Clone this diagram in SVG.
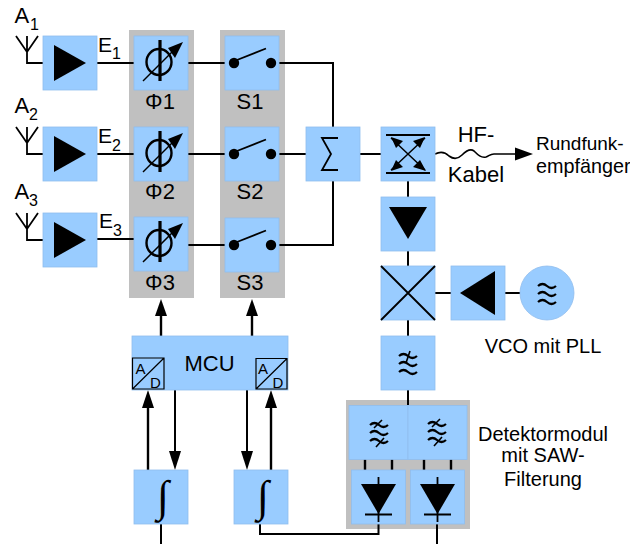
<svg xmlns="http://www.w3.org/2000/svg" width="630" height="544" viewBox="0 0 630 544">
<style>
text{font-family:"Liberation Sans",Arial,sans-serif;fill:#000}
.b{fill:#99ccff;stroke:#8fbdee;stroke-width:.8}
.g{fill:#c0c0c0}
.w{fill:none;stroke:#000;stroke-width:2}
.t{fill:none;stroke:#000;stroke-width:2.4}
.f{fill:#000;stroke:none}
.l{font-size:20px;text-anchor:middle}
.m{font-size:22px;text-anchor:middle}
.s{font-size:16px}
.i{font-family:"Liberation Serif",serif;font-size:44px;text-anchor:middle}
.ad{font-size:15px}
.sl{stroke:#000;stroke-width:1.6;fill:none}
</style>
<defs>
<g id="amp"><rect class="b" x="0" y="0" width="54" height="54"/><path class="f" d="M11 9L43 27L11 45Z"/></g>
<g id="phi"><rect class="b" x="0" y="0" width="54" height="54"/><ellipse cx="25" cy="26" rx="12.500" ry="13" fill="none" stroke="#000" stroke-width="2.400"/><path d="M26 4V45" stroke="#000" stroke-width="3.200"/><path d="M9 45L38 16" stroke="#000" stroke-width="1.500"/><path class="f" d="M49 6L34 12L41 22Z"/></g>
<g id="sw"><rect class="b" x="0" y="0" width="54" height="54"/><circle class="f" cx="9" cy="27" r="5.200"/><circle class="f" cx="46" cy="27" r="5.200"/><path d="M12 24L41 12.500" stroke="#000" stroke-width="1.800"/></g>
<g id="ant"><path d="M-11 -27L0 -11L11 -27M0 -27V0H16" fill="none" stroke="#000" stroke-width="1.800"/></g>
<g id="ft"><path d="M-9 -7q4.500 -4 9 0t9 0M-9 1q4.500 -4 9 0t9 0M-9 9q4.500 -4 9 0t9 0" fill="none" stroke="#000" stroke-width="2.200"/></g>
</defs>

<g id="groups">
<rect class="g" x="129" y="30" width="65" height="268"/>
<rect class="g" x="220" y="30" width="65" height="268"/>
<rect class="g" x="346" y="400" width="124" height="129"/>
</g>

<g id="connectors">
<path class="w" d="M97 63H134M188 63H225M279 63H333V127"/>
<path class="w" d="M97 154H134M188 154H225M279 154H306M360 154H381"/>
<path class="w" d="M97 239H134M188 245H225M279 245H333V181"/>
<path class="w" d="M408 181V197M408 251V266M408 320V336M408 390V405M435 293H451M505 293H520"/>
<path class="w" d="M435 154C441 151 446 153 449 156C453 159 458 159 462 155C466 151 470 148 474 151C478 155 481 158 486 157C489 156 490 154 494 154H517" style="stroke-width:1.600"/>
<path class="f" d="M515 147.500L533 154L515 160.500Z"/>
<path class="t" d="M161 336V312"/><path class="f" d="M161 299L167 316H155Z"/>
<path class="t" d="M252 336V312"/><path class="f" d="M252 299L258 316H246Z"/>
<path class="t" d="M148 470V405"/><path class="f" d="M148 390L154 408H142Z"/>
<path class="w" d="M175 390V455"/><path class="f" d="M175 470L169 451H181Z"/>
<path class="w" d="M247 390V455"/><path class="f" d="M247 470L241 451H253Z"/>
<path class="t" d="M271 470V405"/><path class="f" d="M271 390L277 408H265Z"/>
<path class="w" d="M161 524V544"/>
<path class="w" d="M260 524V534H378.500V524"/>
<path class="w" d="M437 524V544"/>
<path stroke="#000" stroke-width="2.400" d="M365 459V470M392 459V470M424 459V470M451 459V470"/>
</g>

<g id="a1"><use href="#ant" x="27" y="63"/><text x="14.500" y="22.500" font-size="22">A</text><text x="30" y="30" class="s">1</text></g>
<g id="a2"><use href="#ant" x="27" y="154"/><text x="14.500" y="113" font-size="22">A</text><text x="29" y="120" class="s">2</text></g>
<g id="a3"><use href="#ant" x="27" y="240"/><text x="14.500" y="199" font-size="22">A</text><text x="29" y="206" class="s">3</text></g>

<g id="amp1"><use href="#amp" x="43" y="36"/><text x="98" y="52" font-size="21">E</text><text x="112" y="59" class="s">1</text></g>
<g id="amp2"><use href="#amp" x="43" y="127"/><text x="98" y="143" font-size="21">E</text><text x="112" y="151" class="s">2</text></g>
<g id="amp3"><use href="#amp" x="43" y="213"/><text x="99" y="228" font-size="21">E</text><text x="113" y="236" class="s">3</text></g>

<g id="phase1"><use href="#phi" x="134" y="36"/><text class="m" x="160" y="109">Φ1</text></g>
<g id="phase2"><use href="#phi" x="134" y="127"/><text class="m" x="160" y="199">Φ2</text></g>
<g id="phase3"><use href="#phi" x="134" y="217"/><text class="m" x="160" y="290">Φ3</text></g>

<g id="s1"><use href="#sw" x="225" y="36"/><text class="m" x="250" y="109">S1</text></g>
<g id="s2"><use href="#sw" x="225" y="127"/><text class="m" x="250" y="199">S2</text></g>
<g id="s3"><use href="#sw" x="225" y="218"/><text class="m" x="250" y="290">S3</text></g>

<g id="sum"><rect class="b" x="306" y="127" width="54" height="54"/><path d="M338 138H322L331 154L322 170H338" fill="none" stroke="#000" stroke-width="1.800"/></g>

<g id="coupler"><rect class="b" x="381" y="127" width="54" height="54"/>
<path d="M386 135H430M386 173H430" stroke="#000" stroke-width="1.800"/>
<path d="M391 138L425 170M425 138L391 170" stroke="#000" stroke-width="1.500"/>
<path class="f" d="M391 137L403 141L396 148ZM425 137L420 148L413 141ZM391 171L396 160L403 167ZM426 171L413 167L420 160Z"/></g>

<g id="ampd"><rect class="b" x="381" y="197" width="54" height="54"/><path class="f" d="M389 207H427L408 239Z"/></g>
<g id="mixer"><rect class="b" x="381" y="266" width="54" height="54"/><path d="M381 266L435 320M435 266L381 320" stroke="#000" stroke-width="1.800"/></g>
<g id="ampl"><rect class="b" x="451" y="266" width="54" height="54"/><path class="f" d="M495 271V315L460 293Z"/></g>
<g id="vco"><circle class="b" cx="547" cy="293" r="27"/><use href="#ft" x="547" y="293"/></g>

<g id="filter"><rect class="b" x="381" y="336" width="54" height="54"/><use href="#ft" x="408" y="363"/><path class="sl" d="M410 351L406 363"/></g>
<g id="det1"><rect class="b" x="349" y="405.500" width="59" height="54"/><use href="#ft" x="379" y="432"/><path class="sl" d="M382 420L374 428M384 438L376 447"/></g>
<g id="det2"><rect class="b" x="408" y="405.500" width="59" height="54"/><use href="#ft" x="437" y="431"/><path class="sl" d="M440 419L432 427M442 437L434 446"/></g>
<g id="d1"><rect class="b" x="351.500" y="470" width="54" height="54"/><path class="f" d="M361 484H396L378.500 514Z"/><path d="M378.500 477V522M365 514.500H392" stroke="#000" stroke-width="1.800"/></g>
<g id="d2"><rect class="b" x="410.500" y="470" width="54" height="54"/><path class="f" d="M420 484H455L437.500 514Z"/><path d="M437.500 477V522M424 514.500H451" stroke="#000" stroke-width="1.800"/></g>

<g id="mcu"><rect class="b" x="132" y="336" width="156" height="54"/><text x="209.500" y="371" font-size="22" text-anchor="middle">MCU</text>
<path d="M132.500 358H164V389H132.500ZM132.500 389L164 358" fill="none" stroke="#000" stroke-width="1.200"/><text x="135.500" y="374" class="ad">A</text><text x="150" y="388" class="ad">D</text>
<path d="M256 358.500H287V389H256ZM256 389L287 358.500" fill="none" stroke="#000" stroke-width="1.200"/><text x="258" y="374" class="ad">A</text><text x="272.500" y="388" class="ad">D</text></g>

<g id="int1"><rect class="b" x="134" y="470" width="54" height="54"/><text class="i" x="163" y="511">∫</text></g>
<g id="int2"><rect class="b" x="234" y="470" width="54" height="54"/><text class="i" x="263" y="511">∫</text></g>

<g id="labels">
<text x="476" y="142" font-size="22" text-anchor="middle">HF-</text>
<text x="476" y="182" font-size="22" text-anchor="middle">Kabel</text>
<text x="536" y="150" font-size="19">Rundfunk-</text>
<text x="536" y="173" font-size="19.800">empfänger</text>
<text x="543" y="353" class="l">VCO mit PLL</text>
<text x="543" y="441" class="l">Detektormodul</text>
<text x="543" y="462" class="l">mit SAW-</text>
<text x="543" y="486" class="l">Filterung</text>
</g>
</svg>
